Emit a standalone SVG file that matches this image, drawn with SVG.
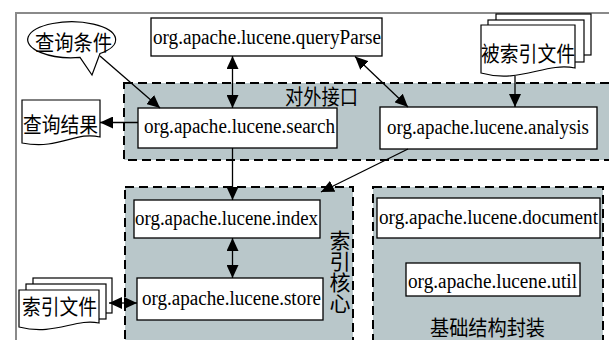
<svg xmlns="http://www.w3.org/2000/svg" width="609" height="340" viewBox="0 0 609 340">
  <style>
    .frame { fill: none; stroke: #8a8a8a; stroke-width: 2; }
    .region { fill: #b9c7ca; stroke: #000; stroke-width: 2; stroke-dasharray: 9 5; }
    .box { fill: #fff; stroke: #000; stroke-width: 1.3; }
    .shape { fill: #fff; stroke: #000; stroke-width: 1.2; }
    .pkg { font-family: "Liberation Serif", "Times New Roman", serif; font-size: 20px; fill: #000; }
    .cjk { font-family: "Noto Sans CJK SC", "Noto Sans", sans-serif; font-size: 21px; fill: #000; }
    .conn line { stroke: #000; stroke-width: 1.3; fill: none; }
  </style>
  <defs>
    <marker id="ah" viewBox="0 0 13 12" refX="13" refY="6" markerWidth="13" markerHeight="12" markerUnits="userSpaceOnUse" orient="auto-start-reverse">
      <path d="M0,0 L13,6 L0,12 Z" fill="#000"/>
    </marker>
  </defs>

  <rect width="609" height="340" fill="#fff"/>

  <!-- outer frame -->
  <path class="frame" d="M16,340 V13 H609"/>

  <!-- layer regions -->
  <g id="region-interface">
    <rect class="region" x="124" y="83" width="500" height="77"/>
    <text class="cjk" x="285" y="104" textLength="73" lengthAdjust="spacingAndGlyphs">对外接口</text>
  </g>
  <g id="region-core">
    <rect class="region" x="125" y="187" width="228" height="170"/>
    <text class="cjk" x="340" y="230" font-size="17" writing-mode="tb">索引核心</text>
  </g>
  <g id="region-base">
    <rect class="region" x="373" y="187" width="230" height="170"/>
    <text class="cjk" x="430" y="335" textLength="115" lengthAdjust="spacingAndGlyphs">基础结构封装</text>
  </g>

  <!-- package nodes -->
  <g id="queryParse">
    <rect class="box" x="151" y="18" width="231" height="38"/>
    <text class="pkg" x="153" y="44" textLength="228" lengthAdjust="spacingAndGlyphs">org.apache.lucene.queryParse</text>
  </g>
  <g id="search">
    <rect class="box" x="138" y="108" width="199" height="40"/>
    <text class="pkg" x="144" y="133" textLength="191" lengthAdjust="spacingAndGlyphs">org.apache.lucene.search</text>
  </g>
  <g id="analysis">
    <rect class="box" x="380" y="107" width="217" height="42"/>
    <text class="pkg" x="387" y="134" textLength="202" lengthAdjust="spacingAndGlyphs">org.apache.lucene.analysis</text>
  </g>
  <g id="index">
    <rect class="box" x="134" y="200" width="186" height="38"/>
    <text class="pkg" x="135" y="225" textLength="183" lengthAdjust="spacingAndGlyphs">org.apache.lucene.index</text>
  </g>
  <g id="store">
    <rect class="box" x="137" y="278" width="186" height="42"/>
    <text class="pkg" x="142" y="305" textLength="179" lengthAdjust="spacingAndGlyphs">org.apache.lucene.store</text>
  </g>
  <g id="document">
    <rect class="box" x="377" y="198" width="223" height="40"/>
    <text class="pkg" x="379" y="224" textLength="219" lengthAdjust="spacingAndGlyphs">org.apache.lucene.document</text>
  </g>
  <g id="util">
    <rect class="box" x="406" y="263" width="174" height="33"/>
    <text class="pkg" x="408" y="288" textLength="169" lengthAdjust="spacingAndGlyphs">org.apache.lucene.util</text>
  </g>

  <!-- query callout -->
  <g id="query-condition">
    <path class="shape" d="M80,57.4 L92,75 L100,53.5 A44,18 0 1 0 80,57.4 Z"/>
    <text class="cjk" x="35" y="50" textLength="77" lengthAdjust="spacingAndGlyphs">查询条件</text>
  </g>

  <!-- result document -->
  <g id="query-result">
    <path class="shape" d="M22,100 H100 V137 C75,131 60,150 22,143 Z"/>
    <text class="cjk" x="23" y="132" textLength="75" lengthAdjust="spacingAndGlyphs">查询结果</text>
  </g>

  <!-- source documents -->
  <g id="source-files">
    <rect class="shape" x="496" y="14" width="95" height="41"/>
    <rect class="shape" x="488" y="20" width="96" height="42"/>
    <path class="shape" d="M481,25 H575 V68 C545,62 520,84 481,73 Z"/>
    <text class="cjk" x="481" y="60.5" textLength="94" lengthAdjust="spacingAndGlyphs">被索引文件</text>
  </g>

  <!-- index files -->
  <g id="index-files">
    <rect class="shape" x="33" y="278" width="79" height="35"/>
    <rect class="shape" x="26" y="284" width="80" height="35"/>
    <path class="shape" d="M19,290 H99 V323 C75,318 55,336 19,327 Z"/>
    <text class="cjk" x="22" y="314" textLength="75" lengthAdjust="spacingAndGlyphs">索引文件</text>
  </g>

  <!-- connectors -->
  <g id="connectors" class="conn">
    <line x1="100" y1="56" x2="160" y2="108" marker-end="url(#ah)"/>
    <line x1="232.5" y1="56" x2="232.5" y2="108" marker-start="url(#ah)" marker-end="url(#ah)"/>
    <line x1="355" y1="56.5" x2="408" y2="107" marker-start="url(#ah)" marker-end="url(#ah)"/>
    <line x1="138" y1="122.5" x2="100" y2="122.5" marker-end="url(#ah)"/>
    <line x1="515" y1="76" x2="515" y2="107" marker-end="url(#ah)"/>
    <line x1="232.5" y1="148" x2="232.5" y2="200" marker-end="url(#ah)"/>
    <line x1="408" y1="149" x2="321" y2="192" marker-end="url(#ah)"/>
    <line x1="232.5" y1="238" x2="232.5" y2="278" marker-start="url(#ah)" marker-end="url(#ah)"/>
    <line x1="109" y1="303" x2="137" y2="303" marker-start="url(#ah)" marker-end="url(#ah)"/>
  </g>
</svg>
